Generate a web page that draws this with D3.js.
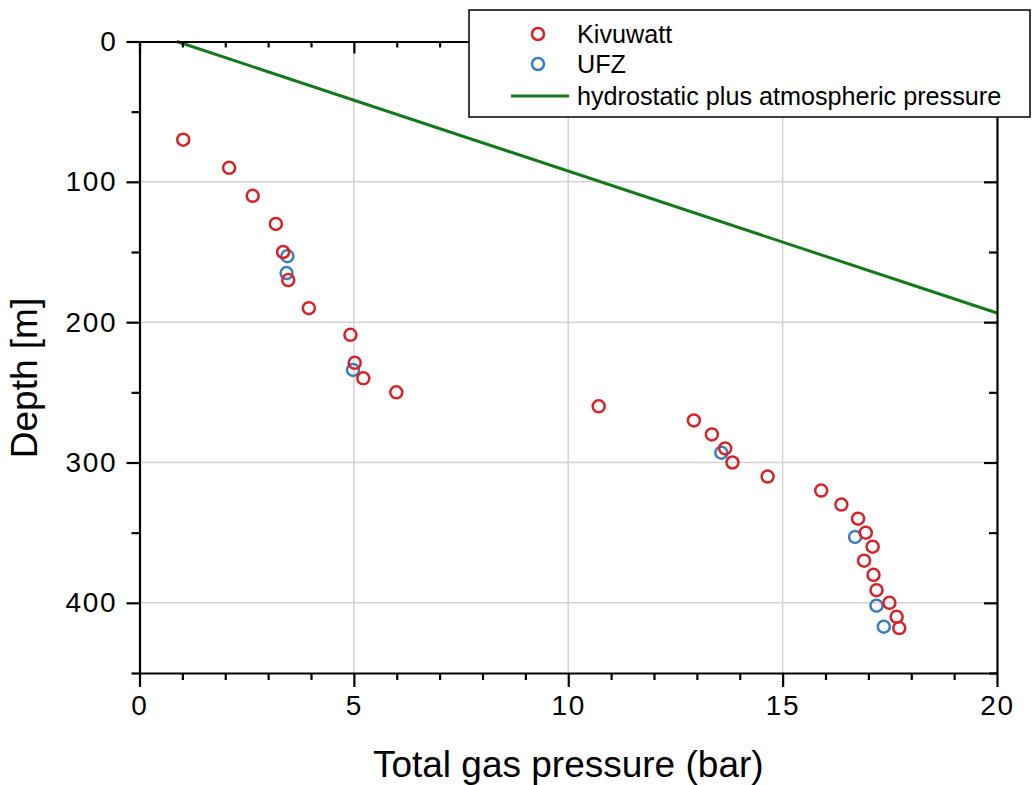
<!DOCTYPE html>
<html>
<head>
<meta charset="utf-8">
<script src="https://cdn.jsdelivr.net/npm/d3@7"></script>
<style>
  html, body { margin: 0; padding: 0; background: #fff; }
  svg { display: block; font-family: "Liberation Sans", Arial, sans-serif; }
</style>
</head>
<body>
<svg id="chart" width="1033" height="785"></svg>
<script>
// Kivuwatt profile: total gas pressure (bar) against depth (m)
const kivuwattPressure = [1.02, 2.09, 2.64, 3.18, 3.35, 3.47, 3.95, 4.92, 5.02, 5.22, 5.99, 10.71, 12.93, 13.35,
  13.66, 13.83, 14.65, 15.90, 16.37, 16.76, 16.94, 17.10, 16.90, 17.12, 17.19, 17.49, 17.66, 17.72];
const kivuwattDepth = [70, 90, 110, 130, 150, 170, 190, 209, 229, 240, 250, 260, 270, 280,
  290, 300, 310, 320, 330, 340, 350, 360, 370, 380, 391, 400, 410, 418];

// UFZ profile
const ufzPressure = [3.45, 3.43, 4.98, 13.57, 16.69, 17.19, 17.36];
const ufzDepth = [153, 165, 234, 293, 353, 402, 417];

// hydrostatic plus atmospheric pressure (straight line)
const hydroPressure = [0.87, 20];
const hydroDepth = [0, 193.5];

// axis ticks
const xMajorTicks = [0, 5, 10, 15, 20];
const xMinorTicks = [1, 2, 3, 4, 6, 7, 8, 9, 11, 12, 13, 14, 16, 17, 18, 19];
const yMajorTicks = [0, 100, 200, 300, 400];
const yMinorTicks = [50, 150, 250, 350, 450];

const seriesNames = ["Kivuwatt", "UFZ", "hydrostatic plus atmospheric pressure"];
const colors = { red: "#d92128", blue: "#3a7fbd", green: "#13791a" };

const svg = d3.select("#chart");
const plotLeft = 139.5, plotRight = 997, plotTop = 41.5, plotBottom = 673;

const x = d3.scaleLinear().domain([0, 20]).range([plotLeft, plotRight]);
const y = d3.scaleLinear().domain([0, 450]).range([plotTop, plotBottom]);

// grid
const grid = svg.append("g").attr("stroke", "#d3d3d3").attr("stroke-width", 1.5);
grid.selectAll("line.gx").data([5, 10, 15]).join("line")
  .attr("x1", d => x(d)).attr("x2", d => x(d)).attr("y1", plotTop).attr("y2", plotBottom);
grid.selectAll("line.gy").data([100, 200, 300, 400]).join("line")
  .attr("y1", d => y(d)).attr("y2", d => y(d)).attr("x1", plotLeft).attr("x2", plotRight);

// hydrostatic line
const hydro = hydroPressure.map((p, i) => [p, hydroDepth[i]]);
svg.append("path")
  .datum(hydro)
  .attr("fill", "none")
  .attr("stroke", colors.green)
  .attr("stroke-width", 3)
  .attr("d", d3.line().x(d => x(d[0])).y(d => y(d[1])));

// markers
const ufz = ufzPressure.map((p, i) => [p, ufzDepth[i]]);
const kiv = kivuwattPressure.map((p, i) => [p, kivuwattDepth[i]]);
const R = 6, SW = 2.5;
svg.append("g").selectAll("circle").data(ufz).join("circle")
  .attr("cx", d => x(d[0])).attr("cy", d => y(d[1])).attr("r", R)
  .attr("fill", "none").attr("stroke", colors.blue).attr("stroke-width", SW);
svg.append("g").selectAll("circle").data(kiv).join("circle")
  .attr("cx", d => x(d[0])).attr("cy", d => y(d[1])).attr("r", R)
  .attr("fill", "none").attr("stroke", colors.red).attr("stroke-width", SW);

// axes
function styleAxis(g) {
  g.select(".domain").attr("stroke", "#000").attr("stroke-width", 2.2);
  g.selectAll(".tick line").attr("stroke", "#000").attr("stroke-width", 2.2);
  g.selectAll(".tick text").attr("fill", "#000");
}
function styleLabels(g) {
  g.selectAll(".tick text")
    .attr("font-size", 28)
    .attr("letter-spacing", "1.8px")
    .attr("font-family", "Liberation Sans, Arial, sans-serif");
}

// bottom
svg.append("g").attr("transform", `translate(0,${plotBottom})`)
  .call(d3.axisBottom(x).tickValues(xMajorTicks).tickSize(14).tickSizeOuter(0).tickPadding(8).tickFormat(d3.format("d")))
  .call(styleAxis).call(styleLabels);
svg.append("g").attr("transform", `translate(0,${plotBottom})`)
  .call(d3.axisBottom(x).tickValues(xMinorTicks).tickSize(7).tickFormat(""))
  .call(styleAxis).call(g => g.select(".domain").remove());

// top (inward ticks)
svg.append("g").attr("transform", `translate(0,${plotTop})`)
  .call(d3.axisBottom(x).tickValues(xMajorTicks).tickSize(12).tickSizeOuter(0).tickFormat(""))
  .call(styleAxis);
svg.append("g").attr("transform", `translate(0,${plotTop})`)
  .call(d3.axisBottom(x).tickValues(xMinorTicks).tickSize(6).tickFormat(""))
  .call(styleAxis).call(g => g.select(".domain").remove());

// left
svg.append("g").attr("transform", `translate(${plotLeft},0)`)
  .call(d3.axisLeft(y).tickValues(yMajorTicks).tickSize(13).tickSizeOuter(0).tickPadding(9).tickFormat(d3.format("d")))
  .call(styleAxis).call(styleLabels);
svg.append("g").attr("transform", `translate(${plotLeft},0)`)
  .call(d3.axisLeft(y).tickValues(yMinorTicks).tickSize(8).tickFormat(""))
  .call(styleAxis).call(g => g.select(".domain").remove());

// right (inward ticks)
svg.append("g").attr("transform", `translate(${plotRight},0)`)
  .call(d3.axisLeft(y).tickValues(yMajorTicks).tickSize(13).tickSizeOuter(0).tickFormat(""))
  .call(styleAxis);
svg.append("g").attr("transform", `translate(${plotRight},0)`)
  .call(d3.axisLeft(y).tickValues(yMinorTicks).tickSize(8).tickFormat(""))
  .call(styleAxis).call(g => g.select(".domain").remove());

// axis titles
svg.append("text")
  .attr("x", (plotLeft + plotRight) / 2).attr("y", 777)
  .attr("text-anchor", "middle").attr("font-size", 37).attr("fill", "#000")
  .text("Total gas pressure (bar)");
svg.append("text")
  .attr("transform", "translate(37,378) rotate(-90)")
  .attr("text-anchor", "middle").attr("font-size", 37).attr("fill", "#000")
  .text("Depth [m]");

// legend
const legend = svg.append("g");
legend.append("rect")
  .attr("x", 469).attr("y", 10).attr("width", 561).attr("height", 107)
  .attr("fill", "#fff").attr("stroke", "#000").attr("stroke-width", 1.5);
const legendRows = [
  { name: seriesNames[0], type: "circle", color: colors.red, cy: 34 },
  { name: seriesNames[1], type: "circle", color: colors.blue, cy: 64 },
  { name: seriesNames[2], type: "line", color: colors.green, cy: 96 }
];
legendRows.forEach(row => {
  if (row.type === "circle") {
    legend.append("circle").attr("cx", 538).attr("cy", row.cy).attr("r", R)
      .attr("fill", "none").attr("stroke", row.color).attr("stroke-width", SW);
  } else {
    legend.append("line").attr("x1", 511).attr("x2", 569).attr("y1", row.cy).attr("y2", row.cy)
      .attr("stroke", row.color).attr("stroke-width", 3);
  }
  legend.append("text").attr("x", 577).attr("y", row.cy + 8.8)
    .attr("font-size", 25.2).attr("fill", "#000").text(row.name);
});
</script>
</body>
</html>
